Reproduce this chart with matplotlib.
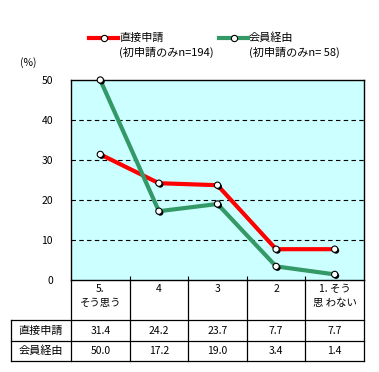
import matplotlib
matplotlib.use("Agg")
import matplotlib.pyplot as plt
from matplotlib.lines import Line2D
import matplotlib.patheffects as pe

plt.rcParams['font.family'] = ['Noto Sans CJK JP', 'DejaVu Sans']

categories = ["5.\nそう思う", "4", "3", "2", "1. そう\n思 わない"]
series_names = ["直接申請", "会員経由"]
series_notes = ["(初申請のみn=194)", "(初申請のみn= 58)"]
direct = [31.4, 24.2, 23.7, 7.7, 7.7]
member = [50.0, 17.2, 19.0, 3.4, 1.4]
yticks = [0, 10, 20, 30, 40, 50]
colors = ["#FF0000", "#339966"]

W, H = 379, 372
fig = plt.figure(figsize=(W / 100, H / 100), dpi=100)

def fx(x): return x / W
def fy(y): return 1 - y / H

L, R, T, B = 71, 364, 80, 280
ax = fig.add_axes([fx(L), fy(B), fx(R) - fx(L), fy(T) - fy(B)])
ax.set_facecolor("#CCFFFF")
ax.set_xlim(0, len(categories))
ax.set_ylim(0, 50)
for s in ax.spines.values():
    s.set_linewidth(1.0)
    s.set_color("black")
for v in yticks[1:-1]:
    ax.axhline(v, color="black", lw=0.8, ls=(0, (4, 3)))
ax.set_yticks(yticks)
ax.set_yticklabels([str(v) for v in yticks], fontsize=7.5)
ax.tick_params(axis='y', length=0, pad=13)
ax.set_xticks(range(1, len(categories)))
ax.set_xticklabels([])
ax.tick_params(axis='x', direction='in', length=3, width=0.8)

xs = [i + 0.5 for i in range(len(categories))]
for vals, c in zip([direct, member], colors):
    ax.plot(xs, vals, color=c, lw=3, zorder=3, clip_on=False)
    ax.plot(xs, vals, ls='none', marker='o', ms=4.5, mfc='white', mec='black',
            mew=0.8, zorder=4, clip_on=False,
            path_effects=[pe.SimplePatchShadow(offset=(1, -1), shadow_rgbFace='black', alpha=1), pe.Normal()])

fig.text(fx(20), fy(63), "(%)", fontsize=7.5, va='center', ha='left')

# legend
leg_x = [89, 219]
for i in range(2):
    x0 = leg_x[i]
    fig.add_artist(Line2D([fx(x0), fx(x0 + 29)], [fy(38), fy(38)], color=colors[i], lw=3))
    fig.add_artist(Line2D([fx(x0 + 14.5)], [fy(38)], marker='o', ms=4.5, mfc='white', mec='black', mew=0.8))
    fig.text(fx(x0 + 30), fy(38), series_names[i], fontsize=8, va='center', ha='left')
    fig.text(fx(x0 + 30), fy(52), series_notes[i], fontsize=8, va='center', ha='left')

# table
rows = [(280, 320), (320, 341), (341, 361)]
colw = (R - L) / len(categories)
lw = 0.9
for k in range(len(categories) + 1):
    x = L + k * colw
    fig.add_artist(Line2D([fx(x), fx(x)], [fy(280), fy(361)], color='black', lw=lw))
fig.add_artist(Line2D([fx(11), fx(11)], [fy(320), fy(361)], color='black', lw=lw))
for y in [320, 341, 361]:
    fig.add_artist(Line2D([fx(11), fx(R)], [fy(y), fy(y)], color='black', lw=lw))
for k, cat in enumerate(categories):
    cx = L + (k + 0.5) * colw
    fig.text(fx(cx), fy(284), cat, fontsize=7.5, va='top', ha='center', linespacing=1.45)
for (y0, y1), name, vals in zip(rows[1:], series_names, [direct, member]):
    cy = (y0 + y1) / 2
    fig.text(fx((11 + L) / 2), fy(cy), name, fontsize=8, va='center', ha='center')
    for k, v in enumerate(vals):
        cx = L + (k + 0.5) * colw
        fig.text(fx(cx), fy(cy), f"{v:.1f}", fontsize=7.5, va='center', ha='center')

fig.savefig("out.png", dpi=100)
